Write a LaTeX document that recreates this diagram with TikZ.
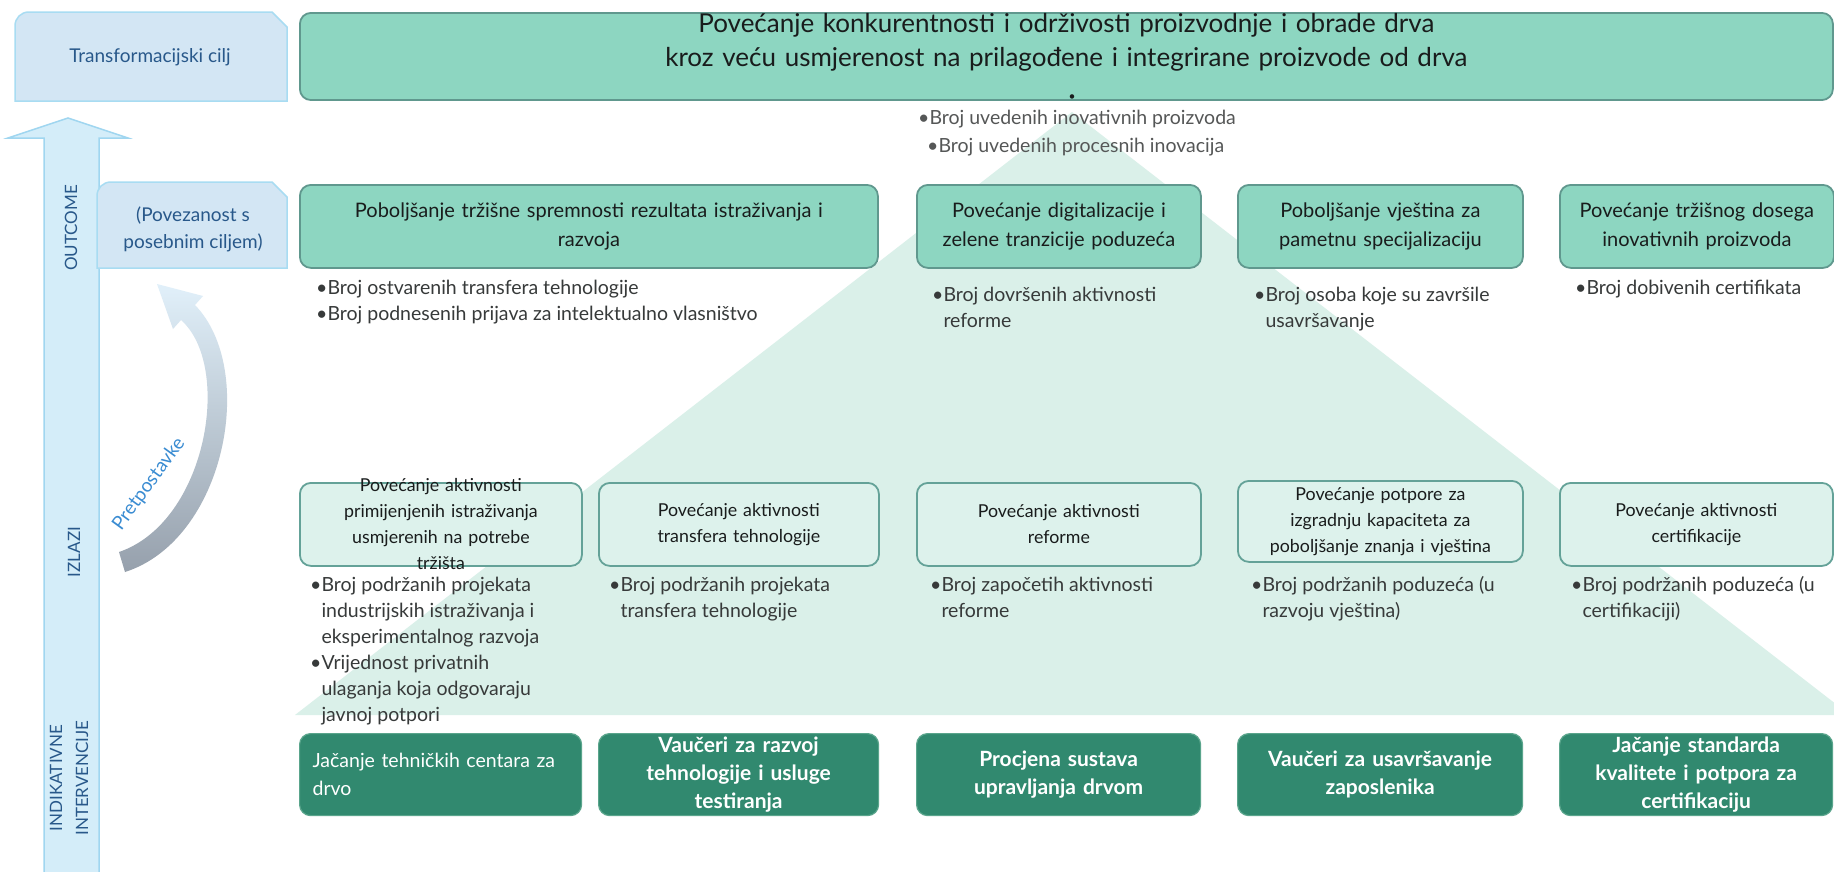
\documentclass[tikz,border=0pt]{standalone}
\usepackage{fontspec}
\setmainfont{Lato}
\definecolor{goalfill}{RGB}{141,214,193}
\definecolor{goaldraw}{RGB}{96,152,142}
\definecolor{trifill}{RGB}{218,240,233}
\definecolor{outfill}{RGB}{221,242,236}
\definecolor{outdraw}{RGB}{100,162,152}
\definecolor{intfill}{RGB}{49,137,111}
\definecolor{intdraw}{RGB}{90,165,140}
\definecolor{lblfill}{RGB}{211,230,244}
\definecolor{lbldraw}{RGB}{168,220,242}
\definecolor{lbltext}{RGB}{40,88,138}
\definecolor{arrfill}{RGB}{212,237,249}
\definecolor{arrdraw}{RGB}{160,214,240}
\definecolor{bultext}{RGB}{55,58,58}
\definecolor{txtdark}{RGB}{25,28,28}
\definecolor{pretext}{RGB}{58,140,210}
\definecolor{curvgray}{RGB}{150,160,172}
\definecolor{curvblue}{RGB}{225,240,250}
\newcommand\myfontTop{\fontsize{26}{34}\selectfont}
\newcommand\myfontB{\fontsize{20}{29}\selectfont}
\newcommand\myfontC{\fontsize{17.8}{26}\selectfont}
\newcommand\myfontD{\fontsize{21}{28}\selectfont}
\newcommand\myfontDr{\fontsize{19.5}{28}\selectfont}
\newcommand\myfontBul{\fontsize{19.5}{26}\selectfont}
\newcommand\myfontLbl{\fontsize{19}{27}\selectfont}
\newcommand\ind{\phantom{•}}
\tikzset{
  goalbox/.style={draw=goaldraw, line width=1.8pt, fill=goalfill, rounded corners=11pt,
    align=center, inner xsep=6pt, inner ysep=0pt, text=txtdark, anchor=north west},
  outbox/.style={draw=outdraw, line width=1.8pt, fill=outfill, rounded corners=11pt,
    align=center, inner xsep=6pt, inner ysep=0pt, text=txtdark, anchor=north west, font=\myfontC},
  intbox/.style={draw=intdraw, line width=1.2pt, fill=intfill, rounded corners=11pt,
    align=center, inner xsep=6pt, inner ysep=0pt, text=white, anchor=north west, font=\myfontD\bfseries},
  bul/.style={anchor=north west, align=left, inner sep=0pt, text=bultext, font=\myfontBul},
  lblshape/.style={fill=lblfill, draw=lbldraw, line width=1.5pt},
  lbltxt/.style={text=lbltext, font=\myfontLbl, align=center, inner sep=0pt},
  axistxt/.style={text=lbltext, font=\fontsize{17}{26}\selectfont, align=center, inner sep=0pt, rotate=90},
}
\begin{document}
\begin{tikzpicture}[x=1pt,y=-1pt]
\useasboundingbox (0,0) rectangle (1834,871);
\fill[white] (0,0) rectangle (1834,871);
% background pyramid
\fill[trifill] (1072,112) -- (1850,715) -- (295,715) -- cycle;
% vertical arrow
\draw[fill=arrfill, draw=arrdraw, line width=1.5pt]
  (44,880) -- (44,138) -- (8,138) -- (68,118) -- (128,138) -- (99,138) -- (99,880) -- cycle;
% label boxes
\path[lblshape] (15,101) -- (15,26) .. controls (15,18) and (21,12) .. (29,12) -- (272,12) -- (287,27) -- (287,101) -- cycle;
\node[lbltxt] (tcl) at (150,57) {Transformacijski cilj};
\path[lblshape] (97,268) -- (97,196) .. controls (97,188) and (103,182) .. (111,182) -- (272,182) -- (287,197) -- (287,268) -- cycle;
\node[lbltxt] (pos) at (193,229) {(Povezanost s\\posebnim ciljem)};
% axis labels
\node[axistxt] (lout) at (71,228) {OUTCOME};
\node[axistxt] (lizl) at (74,552) {IZLAZI};
\node[axistxt] (lind) at (69,778) {INDIKATIVNE\\INTERVENCIJE};
% curved arrow (Pretpostavke)
\shade[top color=curvblue, bottom color=curvgray]
  (119,552) -- (125,572) .. controls (225,540) and (258,370) .. (195,305)
  -- (203,296) -- (157,284) -- (173,329) -- (181,320)
  .. controls (233,366) and (207,522) .. (119,552) -- cycle;
\node[text=pretext, font=\fontsize{19}{22}\selectfont, rotate=54, inner sep=0pt] (pre) at (149,484) {Pretpostavke};
% transformation goal
\node[goalbox, minimum width=1533, minimum height=86, text width=1500, font=\myfontTop] (goal) at (299,12)
  {Povećanje konkurentnosti i održivosti proizvodnje i obrade drva\\kroz veću usmjerenost na prilagođene i integrirane proizvode od drva\\\mbox{}};
\node[inner sep=0pt, text=txtdark, font=\fontsize{12}{12}\selectfont] (dot) at (1072,98) {•};
\node[bul, text=bultext!85!white] (tb1) at (918,106) {\strut•Broj uvedenih inovativnih proizvoda};
\node[bul, text=bultext!85!white] (tb2) at (927,134) {\strut•Broj uvedenih procesnih inovacija};
% outcome row
\node[goalbox, minimum width=578, minimum height=83, text width=564, font=\myfontB] (o1) at (299,184)
  {Poboljšanje tržišne spremnosti rezultata istraživanja i\\razvoja};
\node[goalbox, minimum width=284, minimum height=83, text width=272, font=\myfontB] (o2) at (916,184)
  {Povećanje digitalizacije i\\zelene tranzicije poduzeća};
\node[goalbox, minimum width=285, minimum height=83, text width=272, font=\myfontB] (o3) at (1237,184)
  {Poboljšanje vještina za\\pametnu specijalizaciju};
\node[goalbox, minimum width=273, minimum height=83, text width=262, font=\myfontB] (o4) at (1559,184)
  {Povećanje tržišnog dosega\\inovativnih proizvoda};
\node[bul] (ob1) at (316,276) {\strut•Broj ostvarenih transfera tehnologije\\•Broj podnesenih prijava za intelektualno vlasništvo};
\node[bul] (ob2) at (932,283) {\strut•Broj dovršenih aktivnosti\\\ind reforme};
\node[bul] (ob3) at (1254,283) {\strut•Broj osoba koje su završile\\\ind usavršavanje};
\node[bul] (ob4) at (1575,276) {\strut•Broj dobivenih certifikata};
% output row
\node[outbox, minimum width=282, minimum height=83, text width=272, inner xsep=5pt, inner ysep=-8pt] (p1) at (299,482)
  {Povećanje aktivnosti\\primijenjenih istraživanja\\usmjerenih na potrebe\\tržišta};
\node[outbox, minimum width=280, minimum height=83, text width=266] (p2) at (598,482)
  {Povećanje aktivnosti\\transfera tehnologije};
\node[outbox, minimum width=284, minimum height=83, text width=270] (p3) at (916,482)
  {Povećanje aktivnosti\\reforme};
\node[outbox, minimum width=285, minimum height=81, text width=275, inner xsep=5pt] (p4) at (1237,480)
  {Povećanje potpore za\\izgradnju kapaciteta za\\poboljšanje znanja i vještina};
\node[outbox, minimum width=273, minimum height=83, text width=259] (p5) at (1559,482)
  {Povećanje aktivnosti\\certifikacije};
\node[bul] (pb1) at (310,573) {\strut•Broj podržanih projekata\\\ind industrijskih istraživanja i\\\ind eksperimentalnog razvoja\\•Vrijednost privatnih\\\ind ulaganja koja odgovaraju\\\ind javnoj potpori};
\node[bul] (pb2) at (609,573) {\strut•Broj podržanih projekata\\\ind transfera tehnologije};
\node[bul] (pb3) at (930,573) {\strut•Broj započetih aktivnosti\\\ind reforme};
\node[bul] (pb4) at (1251,573) {\strut•Broj podržanih poduzeća (u\\\ind razvoju vještina)};
\node[bul] (pb5) at (1571,573) {\strut•Broj podržanih poduzeća (u\\\ind certifikaciji)};
% interventions row
\node[intbox, minimum width=282, minimum height=82, text width=256, align=left, font=\myfontDr, inner xsep=13pt] (i1) at (299,733)
  {Jačanje tehničkih centara za\\drvo};
\node[intbox, minimum width=280, minimum height=82, text width=268] (i2) at (598,733)
  {Vaučeri za razvoj\\tehnologije i usluge\\testiranja};
\node[intbox, minimum width=284, minimum height=82, text width=272] (i3) at (916,733)
  {Procjena sustava\\upravljanja drvom};
\node[intbox, minimum width=285, minimum height=82, text width=273] (i4) at (1237,733)
  {Vaučeri za usavršavanje\\zaposlenika};
\node[intbox, minimum width=273, minimum height=82, text width=261] (i5) at (1559,733)
  {Jačanje standarda\\kvalitete i potpora za\\certifikaciju};
\end{tikzpicture}
\end{document}
